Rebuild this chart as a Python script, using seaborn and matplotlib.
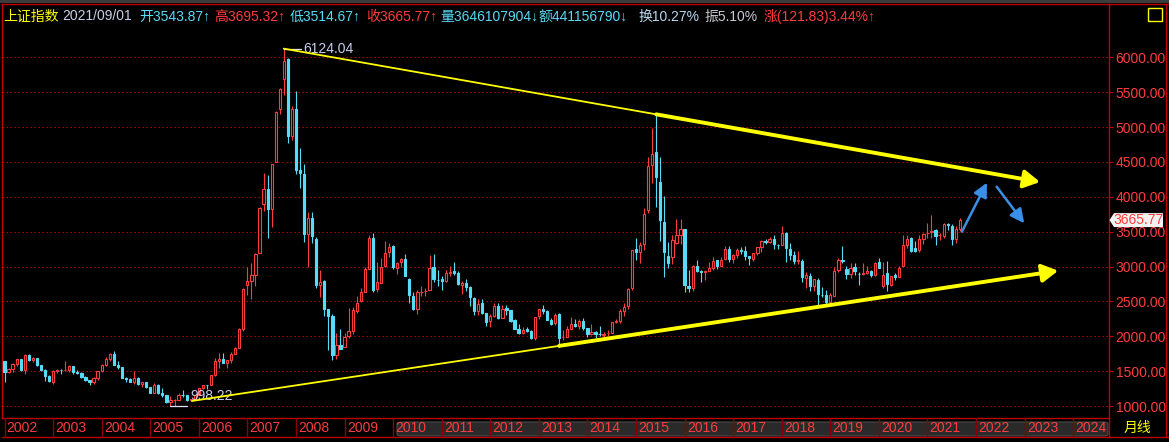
import numpy as np
import pandas as pd
import matplotlib
matplotlib.use("Agg")
import matplotlib.pyplot as plt
import seaborn as sns
from matplotlib.patches import Polygon, Rectangle, FancyBboxPatch
from matplotlib.transforms import Bbox, TransformedBbox

# ---------------- data (monthly OHLC, 上证指数, 2002-01 .. 2021-09) ----------------
opens = [
    1645, 1491, 1524, 1604, 1669, 1515, 1733, 1665, 1688, 1581, 1517, 1436,  # 2002
    1347, 1499, 1513, 1510, 1521, 1576, 1487, 1476, 1421, 1367, 1348, 1397,  # 2003
    1497, 1590, 1675, 1742, 1595, 1555, 1399, 1386, 1342, 1396, 1320, 1340,  # 2004
    1266, 1191, 1306, 1181, 1159, 1060, 1080, 1083, 1162, 1155, 1092, 1099,  # 2005
    1163, 1258, 1299, 1298, 1440, 1641, 1672, 1612, 1658, 1752, 1837, 2099,  # 2006
    2728, 2786, 2881, 3196, 3900, 4109, 3822, 4502, 5265, 5683, 5980, 4869,  # 2007
    5265, 4383, 4330, 3461, 3699, 3388, 2741, 2791, 2389, 2293, 1728, 1871,  # 2008
    1849, 2001, 2078, 2369, 2500, 2636, 2966, 3416, 2671, 2767, 3006, 3206,  # 2009
    3289, 2984, 3058, 3113, 2823, 2580, 2398, 2637, 2646, 2663, 2989, 2810,  # 2010
    2825, 2799, 2906, 2936, 2905, 2736, 2763, 2704, 2555, 2367, 2473, 2329,  # 2011
    2212, 2286, 2430, 2263, 2405, 2372, 2228, 2109, 2050, 2105, 2078, 1980,  # 2012
    2289, 2398, 2365, 2237, 2184, 2316, 1987, 1993, 2104, 2172, 2143, 2214,  # 2013
    2113, 2033, 2057, 2034, 2021, 2040, 2048, 2203, 2213, 2363, 2427, 2697,  # 2014
    3258, 3212, 3328, 3810, 4452, 4637, 4218, 3637, 3157, 3143, 3337, 3456,  # 2015
    3536, 2716, 2688, 3011, 2932, 2917, 2931, 2980, 3090, 3013, 3101, 3253,  # 2016
    3105, 3160, 3243, 3226, 3146, 3102, 3196, 3273, 3368, 3350, 3396, 3315,  # 2017
    3314, 3478, 3258, 3163, 3081, 3084, 2829, 2867, 2716, 2812, 2597, 2588,  # 2018
    2497, 2583, 2954, 3095, 2962, 2899, 2987, 2887, 2891, 2904, 2934, 2875,  # 2019
    3067, 2717, 2914, 2740, 2877, 2848, 3006, 3313, 3413, 3262, 3232, 3388,  # 2020
    3475, 3493, 3518, 3446, 3441, 3611, 3587, 3398, 3543.87,                  # 2021
]
highs = [
    1646, 1538, 1614, 1679, 1677, 1748, 1748, 1700, 1690, 1583, 1527, 1441,
    1521, 1536, 1531, 1649, 1582, 1578, 1521, 1490, 1430, 1376, 1413, 1498,
    1600, 1702, 1760, 1783, 1652, 1559, 1416, 1397, 1505, 1410, 1350, 1351,
    1268, 1328, 1316, 1259, 1163, 1146, 1097, 1185, 1223, 1157, 1105, 1164,
    1260, 1306, 1305, 1445, 1682, 1757, 1757, 1660, 1769, 1844, 2114, 2698,
    2994, 3049, 3198, 3848, 4335, 4311, 4474, 5232, 5561, 6124.04, 5987, 5303,
    5522, 4695, 4473, 3786, 3786, 3420, 2952, 2800, 2398, 2316, 2051, 2100,
    2042, 2402, 2419, 2579, 2688, 2999, 3455, 3478, 3068, 3123, 3361, 3334,
    3306, 3060, 3121, 3181, 2835, 2640, 2665, 2718, 2690, 3159, 3186, 2950,
    2870, 2946, 3002, 3067, 2935, 2788, 2826, 2714, 2556, 2536, 2536, 2338,
    2314, 2478, 2478, 2454, 2453, 2380, 2243, 2175, 2133, 2133, 2096, 2276,
    2394, 2445, 2375, 2268, 2335, 2334, 2093, 2150, 2270, 2242, 2253, 2260,
    2114, 2177, 2073, 2146, 2063, 2088, 2210, 2248, 2391, 2475, 2687, 3239,
    3406, 3347, 3835, 4572, 4986, 5178, 4572, 4006, 3358, 3457, 3678, 3684,
    3538, 2945, 3018, 3097, 2945, 2954, 3070, 3140, 3100, 3134, 3301, 3289,
    3179, 3261, 3285, 3295, 3152, 3196, 3277, 3375, 3392, 3418, 3450, 3319,
    3587, 3496, 3334, 3220, 3219, 3114, 2915, 2909, 2827, 2838, 2703, 2667,
    2618, 2998, 3129, 3288, 3009, 3047, 3049, 2919, 3047, 3002, 2953, 3063,
    3127, 3058, 3074, 2868, 2905, 3001, 3458, 3455, 3426, 3362, 3458, 3474,
    3623, 3732, 3532, 3481, 3625, 3624, 3607, 3581, 3695.32,
]
lows = [
    1339, 1478, 1493, 1576, 1502, 1455, 1651, 1638, 1575, 1504, 1365, 1339,
    1311, 1478, 1463, 1497, 1484, 1465, 1457, 1407, 1357, 1307, 1316, 1374,
    1492, 1580, 1652, 1592, 1530, 1396, 1341, 1338, 1310, 1303, 1276, 1259,
    1189, 1188, 1172, 1135, 1043, 998.22, 1004, 1080, 1135, 1067, 1074, 1096,
    1161, 1250, 1250, 1296, 1435, 1541, 1610, 1541, 1620, 1745, 1831, 2073,
    2598, 2541, 2723, 3196, 3800, 3404, 3563, 4502, 5191, 5462, 4778, 4812,
    4330, 4123, 3357, 2990, 3333, 2693, 2566, 2284, 1802, 1664, 1678, 1814,
    1844, 1975, 2037, 2331, 2487, 2636, 2966, 2639, 2639, 2765, 3000, 3133,
    2963, 2890, 2990, 2862, 2481, 2382, 2319, 2580, 2573, 2663, 2773, 2721,
    2661, 2775, 2861, 2873, 2739, 2610, 2649, 2437, 2307, 2307, 2319, 2149,
    2132, 2271, 2242, 2259, 2311, 2210, 2100, 2038, 2029, 2061, 1959, 1949,
    2254, 2318, 2226, 2161, 2163, 1849, 1951, 1988, 2104, 2128, 2103, 2084,
    1984, 2025, 1974, 1999, 1991, 2010, 2040, 2185, 2196, 2292, 2392, 2669,
    3095, 3049, 3242, 3766, 4198, 3847, 3373, 2851, 2983, 3039, 3317, 3327,
    2638, 2638, 2649, 2925, 2781, 2807, 2931, 2953, 2968, 3011, 3095, 3064,
    3044, 3122, 3178, 3097, 3016, 3082, 3166, 3209, 3319, 3334, 3254, 3254,
    3314, 3062, 3091, 3041, 3041, 2782, 2691, 2653, 2644, 2449, 2562, 2463,
    2440, 2582, 2922, 3044, 2822, 2834, 2877, 2733, 2873, 2894, 2856, 2857,
    2974, 2685, 2647, 2719, 2807, 2847, 3006, 3272, 3202, 3210, 3209, 3325,
    3402, 3413, 3313, 3375, 3416, 3522, 3312, 3343, 3514.67,
]
closes = [
    1491, 1524, 1604, 1669, 1515, 1732, 1665, 1688, 1581, 1517, 1436, 1357,
    1499, 1511, 1510, 1521, 1576, 1487, 1476, 1421, 1367, 1348, 1397, 1497,
    1590, 1675, 1742, 1595, 1555, 1399, 1386, 1342, 1396, 1320, 1340, 1266,
    1191, 1306, 1181, 1159, 1060, 1080, 1083, 1162, 1155, 1092, 1099, 1161,
    1258, 1299, 1298, 1440, 1641, 1672, 1612, 1658, 1752, 1837, 2099, 2675,
    2786, 2881, 3183, 3841, 4109, 3820, 4471, 5218, 5552, 5954, 4871, 5261,
    4383, 4348, 3472, 3693, 3433, 2736, 2775, 2397, 2293, 1728, 1871, 1821,
    1990, 2082, 2373, 2477, 2632, 2959, 3412, 2667, 2779, 2995, 3195, 3277,
    2989, 3051, 3109, 2870, 2592, 2398, 2638, 2639, 2655, 2979, 2820, 2808,
    2790, 2905, 2928, 2911, 2743, 2762, 2701, 2567, 2359, 2468, 2333, 2199,
    2292, 2428, 2263, 2396, 2373, 2225, 2103, 2047, 2086, 2069, 1980, 2269,
    2385, 2365, 2236, 2178, 2301, 1979, 1993, 2098, 2174, 2141, 2220, 2116,
    2033, 2056, 2033, 2026, 2039, 2048, 2201, 2217, 2364, 2420, 2683, 3235,
    3210, 3310, 3748, 4441, 4612, 4277, 3664, 3206, 3053, 3383, 3445, 3539,
    2738, 2688, 3004, 2938, 2917, 2930, 2979, 3085, 3005, 3100, 3250, 3104,
    3159, 3242, 3223, 3155, 3117, 3192, 3273, 3361, 3349, 3393, 3317, 3307,
    3481, 3259, 3169, 3082, 3095, 2847, 2876, 2725, 2821, 2603, 2588, 2494,
    2585, 2941, 3091, 3078, 2899, 2979, 2933, 2886, 2905, 2929, 2872, 3050,
    2977, 2880, 2750, 2860, 2852, 2985, 3310, 3396, 3218, 3225, 3392, 3473,
    3483, 3509, 3442, 3447, 3615, 3591, 3397, 3544, 3665.77,
]
first_month = "2002-01"
year_labels = [str(y) for y in range(2002, 2025)]
price_ticks = [1000, 1500, 2000, 2500, 3000, 3500, 4000, 4500, 5000, 5500, 6000]
peak_label = "6124.04"
low_label = "998.22"
last_label = "3665.77"
period_label = "月线"
header_texts = ["上证指数", "2021/09/01", "开3543.87↑", "高3695.32↑", "低3514.67↑",
                "收3665.77↑", "量3646107904↓", "额441156790↓", "换10.27%", "振5.10%",
                "涨(121.83)3.44%↑"]

# ---------------- style ----------------
sns.set_theme(style="dark")
FONT = ["Liberation Sans", "Noto Sans CJK SC", "DejaVu Sans"]
plt.rcParams["font.family"] = FONT

W, H, DPI = 1169, 442, 100
RED = "#ff3c3c"
CYAN = "#57dcf7"
GRIDRED = "#b00000"
FRAME = "#c00000"
YEL = "#ffff00"
BLUE = "#3a8fe6"
LABELC = "#c8cdf0"

df = pd.DataFrame({"open": opens, "high": highs, "low": lows, "close": closes})
df["date"] = pd.date_range(first_month, periods=len(df), freq="MS")
df["x"] = np.arange(len(df))
df["up"] = df["close"] >= df["open"]

fig = plt.figure(figsize=(W / DPI, H / DPI), dpi=DPI, facecolor="black")

def fx(px):
    return px / W

def fy(py):
    return 1 - py / H

# axes placement in pixels
AX_L, AX_R, AX_T, AX_B = 1.5, 1109, 4, 418
ax = fig.add_axes([fx(AX_L), fy(AX_B), (AX_R - AX_L) / W, (AX_B - AX_T) / H])
ax.set_facecolor("black")

PPM = 4.048      # pixels per month
X0 = 4.5         # pixel centre of first candle
PPV = 0.06974    # pixels per index point
Y1000 = 406      # pixel row of 1000
ax.set_xlim((AX_L - X0) / PPM, (AX_R - X0) / PPM)
ax.set_ylim(1000 - (AX_B - Y1000) / PPV, 1000 + (Y1000 - AX_T) / PPV)

# grid
for v in price_ticks:
    ax.axhline(v, color=GRIDRED, lw=0.8, ls=(0, (1.4, 2.2)), zorder=1)

# candles
wick_cols = np.where(df["up"], RED, CYAN)
ax.vlines(df["x"], df["low"], df["high"], colors=wick_cols, lw=0.8, zorder=2)
body_bottom = np.minimum(df["open"], df["close"])
body_h = np.abs(df["close"] - df["open"])
face = np.where(df["up"], "black", CYAN)
ax.bar(df["x"], body_h, bottom=body_bottom, width=0.55, color=face,
       edgecolor=wick_cols, linewidth=0.8, zorder=3)

# spines / axes
for s in ax.spines.values():
    s.set_color(FRAME)
    s.set_linewidth(1.0)
ax.set_xticks([])
ax.yaxis.tick_right()
ax.set_yticks(price_ticks)
ax.set_yticklabels([f"{v:.2f}" for v in price_ticks])
ax.tick_params(axis="y", colors=FRAME, labelcolor=RED, length=3.2, width=0.8,
               pad=1.5, labelsize=10, right=True, left=False, direction="out")
ax.grid(False)

# year row below axes
xt = ax.get_xaxis_transform()
row_top = 0.0
row_bot = -(437 - AX_B) / (AX_B - AX_T)
row_mid = -(428 - AX_B) / (AX_B - AX_T)
row_clip = TransformedBbox(Bbox([[fx(AX_L), fy(437)], [fx(1108), fy(AX_B)]]), fig.transFigure)
band = FancyBboxPatch((fx(397), fy(436)), fx(1108) - fx(397), fy(422) - fy(436),
                      boxstyle="round,pad=0,rounding_size=0.004",
                      transform=fig.transFigure, facecolor="#2a2a2a",
                      edgecolor="#4a4a4a", lw=0.8, zorder=-1)
fig.patches.append(band)
for i, lab in enumerate(year_labels):
    m = 12 * i
    ax.plot([m, m], [row_top, row_bot], transform=xt, color="#8a0000", lw=1.0,
            clip_on=False, zorder=5)
    t = ax.text(m + 0.55, row_mid, lab, transform=xt, color=RED, fontsize=10,
                ha="left", va="center", zorder=6)
    t.set_clip_box(row_clip)
    t.set_clip_on(True)
ax.plot([ax.get_xlim()[0], ax.get_xlim()[1]], [row_bot, row_bot], transform=xt,
        color=FRAME, lw=1.0, clip_on=False)

# figure-level frame pieces
fig.patches.append(Rectangle((0, fy(2.5)), 1, fy(0) - fy(2.5), transform=fig.transFigure,
                             facecolor="#3c3c3c", edgecolor="none"))
fig.lines.append(plt.Line2D([fx(AX_R), fx(AX_R)], [fy(AX_B), fy(437)], transform=fig.transFigure,
                            color=FRAME, lw=1.0))
fig.lines.append(plt.Line2D([fx(1166), fx(1166)], [fy(3.5), fy(437)], transform=fig.transFigure,
                            color=FRAME, lw=1.0))
fig.lines.append(plt.Line2D([fx(AX_R), fx(1169)], [fy(437), fy(437)], transform=fig.transFigure,
                            color=FRAME, lw=1.0))
fig.lines.append(plt.Line2D([fx(AX_R), fx(1169)], [fy(AX_T), fy(AX_T)], transform=fig.transFigure,
                            color=FRAME, lw=1.0))
fig.text(fx(1124), fy(428), period_label, color=YEL, fontsize=10, ha="left", va="center")
# small yellow square in header
fig.patches.append(Rectangle((fx(1147.5), fy(21)), fx(14), fy(8) - fy(21), transform=fig.transFigure,
                             facecolor="none", edgecolor=YEL, lw=1.0))

# header texts
header_x = [3, 62, 139, 214.5, 290, 366, 440.6, 538, 638, 704, 764]
header_cols = [YEL, "#c8d0e8", CYAN, RED, CYAN, RED, CYAN, CYAN, "#b8d8f0", "#c8c8d0", RED]
for t, x, c in zip(header_texts, header_x, header_cols):
    fig.text(fx(x), fy(16.5), t, color=c, fontsize=10, ha="left", va="center")

# last price marker
yl = Y1000 - (closes[-1] - 1000) * PPV
fig.patches.append(Polygon([(fx(1109.5), fy(yl)), (fx(1114), fy(yl - 7)), (fx(1163), fy(yl - 7)),
                            (fx(1163), fy(yl + 7)), (fx(1114), fy(yl + 7))],
                           closed=True, transform=fig.transFigure, facecolor="#f2f2f2",
                           edgecolor="none", zorder=10))
fig.text(fx(1138.5), fy(yl), last_label, color=RED, fontsize=10, ha="center", va="center", zorder=11)

# peak / low annotations
i_peak = int(np.argmax(highs))
i_low = int(np.argmin(lows))
ax.plot([i_peak, i_peak + 17 / PPM], [highs[i_peak]] * 2, color="#e0e0ff", lw=0.9, zorder=6)
ax.text(i_peak + 19 / PPM, highs[i_peak], peak_label, color=LABELC, fontsize=10,
        ha="left", va="center", zorder=6)
ax.plot([i_low, i_low + 17 / PPM], [lows[i_low]] * 2, color="#e0e0ff", lw=0.9, zorder=6)
ax.text(i_low + 20 / PPM, lows[i_low] + 45, low_label, color=LABELC, fontsize=10,
        ha="left", va="bottom", zorder=6)

# trend lines (hand-drawn annotation)
top_a = (i_peak, highs[i_peak])
top_b = (161, 5182)
top_tip = (255.8, 4212)
ax.plot([top_a[0], top_b[0]], [top_a[1], top_b[1]], color=YEL, lw=1.3, zorder=7)
ax.annotate("", xy=top_tip, xytext=top_b,
            arrowprops=dict(arrowstyle="-|>,head_length=0.8,head_width=0.45", color=YEL,
                            lw=2.8, shrinkA=0, shrinkB=0), zorder=7)
bot_a = (46.3, 1072)
bot_b = (137, 1862)
bot_tip = (260.3, 2940)
ax.plot([bot_a[0], bot_b[0]], [bot_a[1], bot_b[1]], color=YEL, lw=1.3, zorder=7)
ax.annotate("", xy=bot_tip, xytext=bot_b,
            arrowprops=dict(arrowstyle="-|>,head_length=0.8,head_width=0.45", color=YEL,
                            lw=2.8, shrinkA=0, shrinkB=0), zorder=7)

# blue forecast arrows
ax.annotate("", xy=(242.7, 4202), xytext=(236.5, 3499),
            arrowprops=dict(arrowstyle="-|>,head_length=0.7,head_width=0.35", color=BLUE,
                            lw=1.8, shrinkA=0, shrinkB=0), zorder=8)
ax.annotate("", xy=(251.9, 3620), xytext=(245.1, 4145),
            arrowprops=dict(arrowstyle="-|>,head_length=0.7,head_width=0.35", color=BLUE,
                            lw=1.8, shrinkA=0, shrinkB=0), zorder=8)

fig.savefig("out.png", dpi=DPI, facecolor="black")
